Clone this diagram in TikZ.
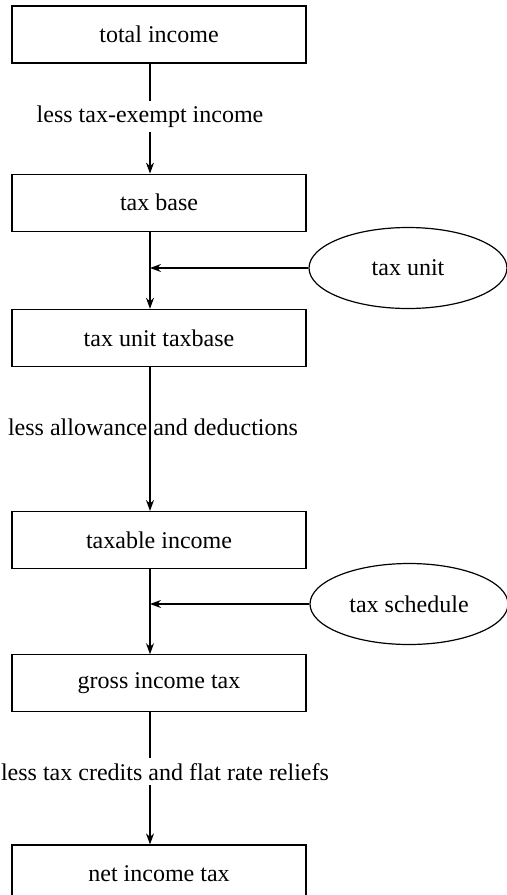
\documentclass[tikz,border=0pt]{standalone}
\usepackage{fontspec}
\setmainfont{Liberation Serif}
\usepackage{tikz}
\usetikzlibrary{arrows.meta,positioning,shapes.geometric}

\begin{document}
\begin{tikzpicture}[
  x=0.5pt, y=0.5pt,
  font=\fontsize{12}{14}\selectfont,
  >={Stealth[length=5.5pt,width=4pt]},
  line width=0.6pt,
  box/.style={draw, minimum width=147pt, minimum height=28.5pt, inner sep=0pt},
  src/.style={draw, ellipse, minimum width=99pt, minimum height=40.5pt, inner sep=0pt},
  lbl/.style={fill=white, inner sep=2.5pt}
]
\useasboundingbox (0,0) rectangle (507,-895);
\node[box] (total) at (159,-34.5) {total income};
\node[box, below=55pt of total] (base) {tax base};
\node[box, below=38.5pt of base] (unitbase) {tax unit taxbase};
\node[box, below=72pt of unitbase] (taxable) {taxable income};
\node[box, below=42.5pt of taxable] (gross) {gross income tax};
\node[box, below=66pt of gross] (net) {net income tax};
\node[src] (unit) at (408,-268) {tax unit};
\node[src] (sched) at (409,-604) {tax schedule};
\coordinate (ln) at ([xshift=-4.5pt]total.south);
\draw[->] (ln) -- node[lbl, pos=0.48] {less tax-exempt income} (ln |- base.north);
\draw[->] (ln |- base.south) -- (ln |- unitbase.north);
\draw[->] (unit.west) -- (unit.west -| ln);
\draw[->] (ln |- unitbase.south) -- node[pos=0.42, inner sep=0pt, xshift=1.5pt] {less allowance and deductions} (ln |- taxable.north);
\draw[->] (ln |- taxable.south) -- (ln |- gross.north);
\draw[->] (sched.west) -- (sched.west -| ln);
\draw[->] (ln |- gross.south) -- node[lbl, pos=0.45, xshift=7.5pt] {less tax credits and flat rate reliefs} (ln |- net.north);
\end{tikzpicture}
\end{document}
